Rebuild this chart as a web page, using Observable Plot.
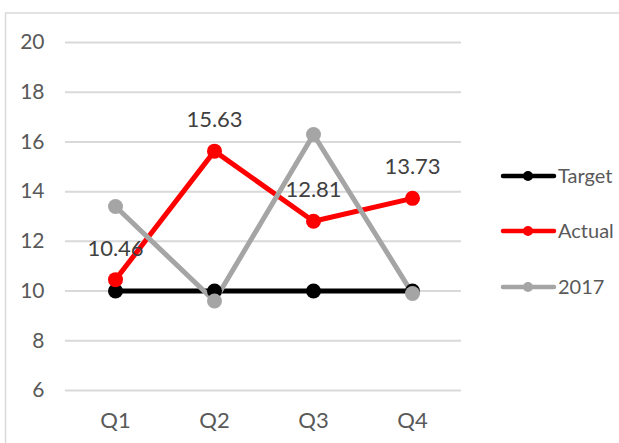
<!DOCTYPE html>
<html>
<head>
<meta charset="utf-8">
<script src="https://cdn.jsdelivr.net/npm/d3@7"></script>
<script src="https://cdn.jsdelivr.net/npm/@observablehq/plot@0.6"></script>
<style>
  html, body { margin: 0; padding: 0; background: #fff; }
  #chart { position: relative; width: 619px; height: 443px; overflow: hidden; }
  svg { font-family: Lato, "Open Sans", sans-serif; }
</style>
</head>
<body>
<div id="chart"></div>
<script>
const quarters = ["Q1", "Q2", "Q3", "Q4"];
const seriesNames = ["Target", "Actual", "2017"];
const target = [10, 10, 10, 10];
const actual = [10.46, 15.63, 12.81, 13.73];
const y2017 = [13.4, 9.6, 16.3, 9.9];
const yTicks = [6, 8, 10, 12, 14, 16, 18, 20];
const seriesColors = ["#000000", "#ff0000", "#a5a5a5"];

const seriesValues = [target, actual, y2017];
const rows = [];
seriesNames.forEach((s, i) => {
  quarters.forEach((q, j) => rows.push({series: s, quarter: q, value: seriesValues[i][j]}));
});
const actualRows = rows.filter(d => d.series === "Actual");

const W = 619, H = 443;
const plot = Plot.plot({
  width: W,
  height: H,
  marginLeft: 65,
  marginRight: 158,
  marginTop: 42,
  marginBottom: 53,
  style: {fontFamily: "Lato, 'Open Sans', sans-serif", fontSize: "20px", color: "#595959", background: "transparent"},
  x: {type: "point", domain: quarters, padding: 0.5, label: null},
  y: {domain: [6, 20], ticks: yTicks, label: null},
  color: {domain: seriesNames, range: seriesColors},
  marks: [
    Plot.ruleY(yTicks, {stroke: "#d9d9d9", strokeWidth: 2}),
    Plot.axisY({ticks: yTicks, tickSize: 0, tickPadding: 21, fontSize: 21, fill: "#595959"}),
    Plot.axisX({tickSize: 0, tickPadding: 22, fontSize: 22, fill: "#595959"}),
    Plot.line(rows, {x: "quarter", y: "value", z: "series", stroke: "series", strokeWidth: 5, strokeLinejoin: "round", strokeLinecap: "round"}),
    Plot.dot(rows, {x: "quarter", y: "value", fill: "series", r: 7.5}),
    Plot.text(actualRows, {x: "quarter", y: "value", text: d => d.value.toFixed(2), dy: -31, fontSize: 22, fill: "#404040"})
  ]
});

const container = document.getElementById("chart");
container.appendChild(plot);

const svg = d3.select(plot);
// chart-area border (top and left visible)
svg.append("path")
  .attr("d", `M5.5,${H} L5.5,13 L${W},13`)
  .attr("fill", "none")
  .attr("stroke", "#d9d9d9")
  .attr("stroke-width", 1.5);

// legend
const leg = svg.append("g");
const legendY = [176, 231, 287];
seriesNames.forEach((s, i) => {
  const g = leg.append("g").attr("transform", `translate(0,${legendY[i]})`);
  g.append("line").attr("x1", 503).attr("x2", 554).attr("y1", 0).attr("y2", 0)
    .attr("stroke", seriesColors[i]).attr("stroke-width", 4.5).attr("stroke-linecap", "round");
  g.append("circle").attr("cx", 528).attr("cy", 0).attr("r", 5).attr("fill", seriesColors[i]);
  g.append("text").attr("x", 558).attr("y", 0).attr("dy", "0.35em")
    .style("text-anchor", "start")
    .style("font-size", "20px")
    .style("fill", "#595959").text(s);
});
</script>
</body>
</html>
